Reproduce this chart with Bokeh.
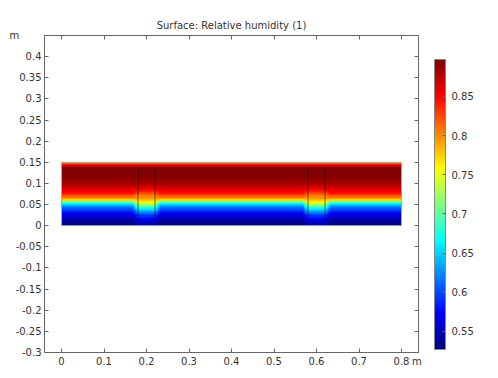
import numpy as np
from bokeh.plotting import figure
from bokeh.models import (LinearColorMapper, ColorBar, LinearAxis, FixedTicker,
                          Range1d, Title)
from bokeh.embed import file_html
from bokeh.resources import INLINE

# ---- data ----
domain_width = 0.8          # m
domain_height = 0.15        # m
layer_top = 0.137           # boundary of top layer
layer_bottom = 0.0125       # boundary of bottom layer
stud_centers = [0.2, 0.6]
stud_width = 0.04
# relative humidity, bottom row -> top row (30 rows of 0.005 m)
rh_wall = [0.530, 0.533, 0.538, 0.548, 0.558, 0.570, 0.585, 0.600, 0.615, 0.635,
           0.665, 0.720, 0.775, 0.810, 0.835, 0.848, 0.856, 0.864, 0.872, 0.879,
           0.885, 0.889, 0.892, 0.894, 0.895, 0.896, 0.895, 0.880, 0.860, 0.820]
rh_stud = [0.545, 0.550, 0.560, 0.575, 0.590, 0.610, 0.630, 0.655, 0.680, 0.710,
           0.740, 0.765, 0.785, 0.800, 0.815, 0.830, 0.845, 0.858, 0.868, 0.876,
           0.883, 0.888, 0.891, 0.894, 0.895, 0.896, 0.895, 0.880, 0.860, 0.820]
rh_min, rh_max = 0.527, 0.897
x_min, x_max = -0.04, 0.84
y_min, y_max = -0.3, 0.45
x_ticks = [0, 0.1, 0.2, 0.3, 0.4, 0.5, 0.6, 0.7, 0.8]
y_ticks = [-0.3, -0.25, -0.2, -0.15, -0.1, -0.05, 0, 0.05, 0.1, 0.15,
           0.2, 0.25, 0.3, 0.35, 0.4]
cb_ticks = [0.55, 0.6, 0.65, 0.7, 0.75, 0.8, 0.85]
unit = "m"


def jet(t):
    r = np.clip(1.5 - abs(4 * t - 3), 0, 1)
    g = np.clip(1.5 - abs(4 * t - 2), 0, 1)
    b = np.clip(1.5 - abs(4 * t - 1), 0, 1)
    return "#%02x%02x%02x" % (int(r * 255), int(g * 255), int(b * 255))


palette = [jet(i / 255) for i in range(256)]

# build the surface from the two profiles
ncol = 320
xc = (np.arange(ncol) + 0.5) * domain_width / ncol
glow = 0.012
w = np.zeros(ncol)
for c in stud_centers:
    d = np.abs(xc - c) - stud_width / 2
    w = np.maximum(w, np.where(d <= 0, 1.0, np.clip(1 - d / glow, 0, 1)))
wall = np.array(rh_wall)[:, None]
stud = np.array(rh_stud)[:, None]
img = wall * (1 - w[None, :]) + stud * w[None, :]

mapper = LinearColorMapper(palette=palette, low=rh_min, high=rh_max)

p = figure(width=490, height=370, output_backend="svg", toolbar_location=None,
           x_range=Range1d(x_min, x_max), y_range=Range1d(y_min, y_max),
           frame_width=374, frame_height=317,
           min_border_left=44, min_border_top=35, min_border_bottom=10,
           min_border_right=10)
p.outline_line_color = None
p.grid.visible = False
p.background_fill_color = "white"
p.border_fill_color = "white"

p.image(image=[img], x=0, y=0, dw=domain_width, dh=domain_height,
        color_mapper=mapper)

for c in stud_centers:
    for e in (c - stud_width / 2, c + stud_width / 2):
        p.segment(x0=[e], y0=[layer_bottom], x1=[e], y1=[layer_top],
                  line_color="black", line_alpha=0.55, line_width=1)
p.segment(x0=[0], y0=[layer_top], x1=[domain_width], y1=[layer_top],
          line_color="black", line_alpha=0.25, line_width=1)
p.quad(left=[0], right=[domain_width], bottom=[0], top=[domain_height],
       fill_alpha=0, line_color="#aaaaaa", line_width=1)

axis_color = "#666666"
label_color = "#333333"
font = "DejaVu Sans"
nb = "\u00a0"


def style(ax, labels=True):
    ax.axis_line_color = axis_color
    ax.major_tick_line_color = axis_color
    ax.major_tick_in = 4
    ax.major_tick_out = 0
    ax.minor_tick_line_color = None
    ax.major_label_text_font = font
    ax.major_label_text_font_size = "10px"
    ax.major_label_text_color = label_color
    ax.major_label_standoff = 3
    if not labels:
        ax.major_label_text_alpha = 0


style(p.xaxis[0])
style(p.yaxis[0])
# unit "m" placed as an extra label at the very end of each axis
x_unit_pos = x_max - 1e-6
y_unit_pos = y_max - 1e-6
p.xaxis[0].ticker = FixedTicker(ticks=x_ticks + [x_unit_pos])
p.yaxis[0].ticker = FixedTicker(ticks=y_ticks + [y_unit_pos])
xo = {t: ("%g" % t) for t in x_ticks}
xo[x_unit_pos] = unit + nb
yo = {t: ("%g" % t) for t in y_ticks}
yo[y_unit_pos] = unit + nb * 7
p.xaxis[0].major_label_overrides = xo
p.yaxis[0].major_label_overrides = yo

top_ax = LinearAxis(ticker=FixedTicker(ticks=x_ticks))
style(top_ax, labels=False)
p.add_layout(top_ax, "above")
right_ax = LinearAxis(ticker=FixedTicker(ticks=y_ticks))
style(right_ax, labels=False)

cb = ColorBar(color_mapper=mapper, width=11, height=290,
              ticker=FixedTicker(ticks=cb_ticks),
              major_label_overrides={t: ("%g" % t) for t in cb_ticks},
              major_label_text_font=font, major_label_text_font_size="10px",
              major_label_text_color=label_color,
              major_tick_line_color="#666666", major_tick_in=3, major_tick_out=0,
              bar_line_color="#888888", border_line_color=None,
              background_fill_color=None, padding=3, margin=0,
              location=(13, 0), label_standoff=6)
p.add_layout(right_ax, "right")
p.add_layout(cb, "right")

p.add_layout(Title(text="Surface: Relative humidity (1)", align="center",
                   text_font=font, text_font_size="10px",
                   text_font_style="normal", text_color=label_color), "above")

open("out.html", "w").write(file_html(p, INLINE))
